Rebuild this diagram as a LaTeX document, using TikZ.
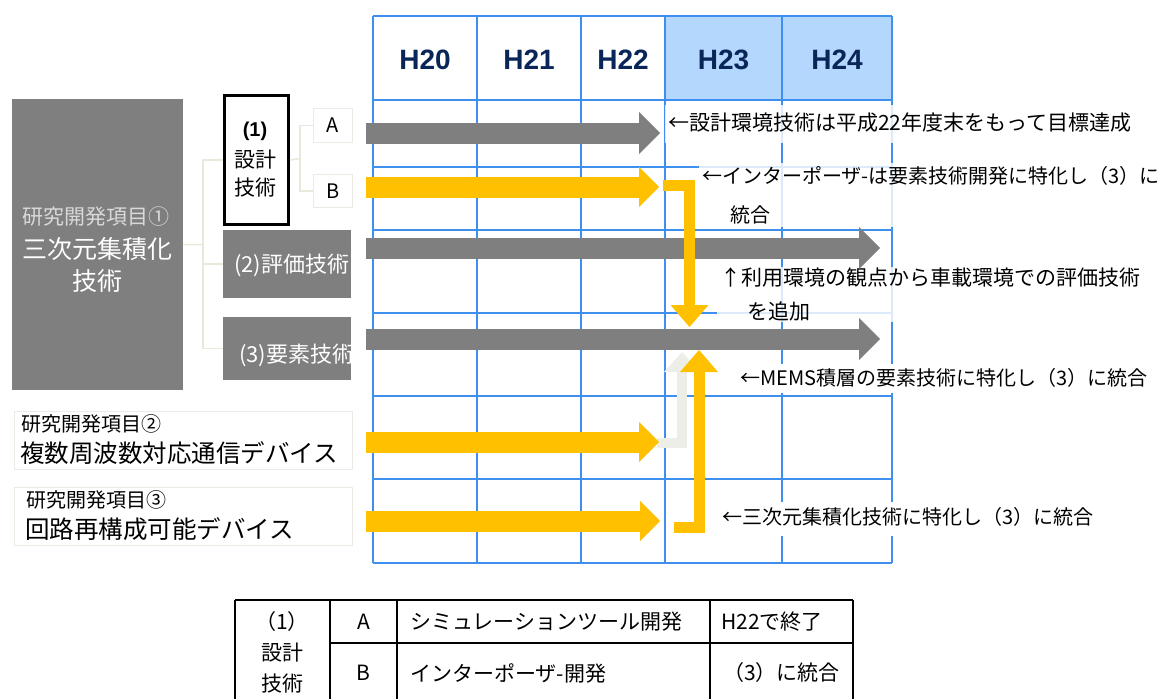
\documentclass[tikz,border=0pt]{standalone}
\usepackage{fontspec}
\setmainfont{Noto Sans CJK JP}
\newfontfamily\hfont{Liberation Sans}
\usetikzlibrary{arrows.meta}
\definecolor{gr}{HTML}{7F7F7F}
\definecolor{yl}{HTML}{FFC000}
\definecolor{gridblue}{HTML}{3F8FEE}
\definecolor{hblue}{HTML}{B3D7FD}
\definecolor{navy}{HTML}{0A2558}
\definecolor{treec}{HTML}{EAE8DA}
\definecolor{lborder}{HTML}{ECEBE3}
\definecolor{ghost}{HTML}{EEEEE8}
\definecolor{lgtext}{HTML}{D9D9D9}
\tikzset{
  gridline/.style={draw=gridblue, line width=1.8pt},
  hdr/.style={font=\hfont\bfseries\fontsize{28}{32}\selectfont, text=navy},
  gbox/.style={fill=gr, draw=none, inner sep=0pt, anchor=north west},
  lbox/.style={fill=white, draw=lborder, line width=1pt, inner sep=0pt, anchor=north west},
  tree/.style={draw=treec, line width=1.5pt},
  jp20/.style={font=\fontsize{20}{24}\selectfont, inner sep=0pt},
  jp21/.style={font=\fontsize{21}{25}\selectfont, inner sep=0pt},
  jp24/.style={font=\fontsize{24.5}{28}\selectfont, inner sep=0pt},
  greyarrow/.style={draw=gr, line width=21pt, -{Triangle[length=21pt,width=42pt,line width=0pt]}},
  yelarrow/.style={draw=yl, line width=21pt, -{Triangle[length=20pt,width=40pt,line width=0pt]}},
  yelconn/.style={draw=yl, line width=11pt, miter limit=10, -{Triangle[length=22pt,width=38pt,line width=0pt]}},
  ghostconn/.style={draw=ghost, line width=10pt, -{Triangle[length=20pt,width=36pt,line width=0pt]}},
  semilabel/.style={fill=white, fill opacity=0.82, text opacity=1, inner xsep=3pt, inner ysep=0pt, align=left, anchor=north west},
  oplabel/.style={fill=white, inner xsep=3pt, inner ysep=0pt, align=left, anchor=north west},
  tbl/.style={draw=black, line width=1.4pt}
}
\begin{document}
\begin{tikzpicture}[x=1pt,y=-1pt]
\useasboundingbox (0,0) rectangle (1165,699);
\fill[white] (0,0) rectangle (1165,699);

% ---- schedule grid ----
\fill[hblue] (665,16) rectangle (892,100);
\foreach \xx in {373,477,581,665,782,892} \draw[gridline] (\xx,16) -- (\xx,563);
\foreach \yy in {16,100,167,230,313,396,479,563} \draw[gridline] (373,\yy) -- (892,\yy);
\node[hdr] (h20) at (425,60) {H20};
\node[hdr] (h21) at (529,60) {H21};
\node[hdr] (h22) at (623,60) {H22};
\node[hdr] (h23) at (723.5,60) {H23};
\node[hdr] (h24) at (837,60) {H24};

% ---- left boxes ----
\node[gbox, minimum width=171pt, minimum height=291pt] (m1) at (12,99) {};
\node[jp21, text=lgtext] (m1a) at (96,217) {研究開発項目①};
\node[font=\fontsize{25}{29}\selectfont, inner sep=0pt, text=white] (m1b) at (97.5,249) {三次元集積化};
\node[font=\fontsize{25}{29}\selectfont, inner sep=0pt, text=white] (m1c) at (97.5,281) {技術};

\node[draw=black, fill=white, line width=3pt, minimum width=64pt, minimum height=129pt, inner sep=0pt, anchor=north west] (d1) at (223,94) {};
\node[font=\hfont\bfseries\fontsize{20}{24}\selectfont, inner sep=0pt] (d1a) at (255,131) {(1)};
\node[jp21] (d1b) at (255,160) {設計};
\node[jp21] (d1c) at (255,188) {技術};

\node[lbox, minimum width=39pt, minimum height=34pt] (bA) at (313,108) {};
\node[font=\fontsize{20}{24}\selectfont] (bAt) at (bA.center) {A};
\node[lbox, minimum width=39pt, minimum height=33pt] (bB) at (313,174) {};
\node[font=\fontsize{20}{24}\selectfont] (bBt) at (bB.center) {B};

\node[gbox, minimum width=128pt, minimum height=68pt] (d2) at (223,230) {};
\begin{scope}
\clip (d2.north west) rectangle (d2.south east);
\node[font=\fontsize{22}{26}\selectfont, inner sep=0pt, text=white, anchor=west] (d2t) at (234,265) {(2)評価技術};
\end{scope}
\node[gbox, minimum width=128pt, minimum height=63pt] (d3) at (223,317) {};
\begin{scope}
\clip (d3.north west) rectangle (d3.south east);
\node[font=\fontsize{22}{26}\selectfont, inner sep=0pt, text=white, anchor=west] (d3t) at (239,355) {(3)要素技術};
\end{scope}

% tree lines
\coordinate (j1) at (203,244.5);
\coordinate (j2) at (300,158.5);
\draw[tree] (m1.east) -- (j1);
\draw[tree] (d1.west) -| (j1);
\draw[tree] (d2.west) -| (j1);
\draw[tree] (d3.west) -| (j1);
\draw[tree] (d1.east) -- (j2);
\draw[tree] (bA.west) -| (j2);
\draw[tree] (bB.west) -| (j2);

\node[lbox, minimum width=338pt, minimum height=58pt] (p2) at (14,411) {};
\node[jp20, anchor=west] (p2a) at (21,424) {研究開発項目②};
\node[jp24, anchor=west] (p2b) at (20,453) {複数周波数対応通信デバイス};
\node[lbox, minimum width=338pt, minimum height=58pt] (p3) at (14,487) {};
\node[jp20, anchor=west] (p3a) at (26,500) {研究開発項目③};
\node[jp24, anchor=west] (p3b) at (25,529) {回路再構成可能デバイス};

% ---- labels on the right ----
\node[semilabel, jp21, inner xsep=3pt, text width=479pt, minimum height=38pt] (L1) at (665,105) {\vspace{4pt}←設計環境技術は平成22年度末をもって目標達成};
\node[semilabel, font=\fontsize{20}{29}\selectfont, text width=470pt, minimum height=64pt] (L2) at (699,163) {\vspace{10pt}←インターポーザ-は要素技術開発に特化し（3）に\\\hspace*{28pt}統合};
\node[semilabel, font=\fontsize{21}{28}\selectfont, text width=436pt, minimum height=55pt] (L3) at (717,267) {\vspace{6pt}↑利用環境の観点から車載環境での評価技術\\\hspace*{27pt}を追加};
\node[oplabel, font=\fontsize{20}{24}\selectfont, text width=414pt, minimum height=29pt] (L4) at (737,364) {\vspace{2pt}←MEMS積層の要素技術に特化し（3）に統合};
\node[oplabel, font=\fontsize{20}{24}\selectfont, text width=383pt, minimum height=34pt] (L5) at (719,502) {\vspace{4pt}←三次元集積化技術に特化し（3）に統合};

% ---- arrows ----
\coordinate (gs) at (657,443);
\coordinate (ge) at (682,352);
\draw[ghostconn] (gs) -| (ge);

\coordinate (aAs) at (366,133);  \coordinate (aAe) at (660,133);
\coordinate (aBs) at (366,187);  \coordinate (aBe) at (659,187);
\coordinate (a2s) at (366,248);  \coordinate (a2e) at (880,248);
\coordinate (a3s) at (366,339);  \coordinate (a3e) at (880,339);
\coordinate (a4s) at (366,442);  \coordinate (a4e) at (659,442);
\coordinate (a5s) at (366,521);  \coordinate (a5e) at (660,521);
\draw[greyarrow] (aAs) -- (aAe);
\draw[greyarrow] (a2s) -- (a2e);
\draw[greyarrow] (a3s) -- (a3e);
\draw[yelarrow] (aBs) -- (aBe);
\draw[yelarrow] (a4s) -- (a4e);
\draw[yelarrow] (a5s) -- (a5e);

\coordinate (c1s) at (663,185.5);
\coordinate (c1e) at (689.5,327);
\draw[yelconn] (c1s) -| (c1e);
\coordinate (c2s) at (674,527);
\coordinate (c2e) at (699,350);
\draw[yelconn] (c2s) -| (c2e);

% ---- bottom table ----
\draw[tbl] (235,600) -- (853,600);
\draw[tbl] (330,643) -- (853,643);
\foreach \xx in {235,330,397,710,853} \draw[tbl] (\xx,600) -- (\xx,705);
\node[jp21] (t1a) at (282,622) {（1）};
\node[jp21] (t1b) at (282,653) {設計};
\node[jp21] (t1c) at (282,684) {技術};
\node[jp21] (tA) at (363.5,622) {A};
\node[jp21] (tB) at (363.5,673) {B};
\node[jp21, anchor=west] (tA2) at (410,622) {シミュレーションツール開発};
\node[jp21, anchor=west] (tB2) at (410,673) {インターポーザ-開発};
\node[jp21, anchor=west] (tA3) at (721,622) {H22で終了};
\node[jp21] (tB3) at (781.5,673) {（3）に統合};
\end{tikzpicture}
\end{document}
